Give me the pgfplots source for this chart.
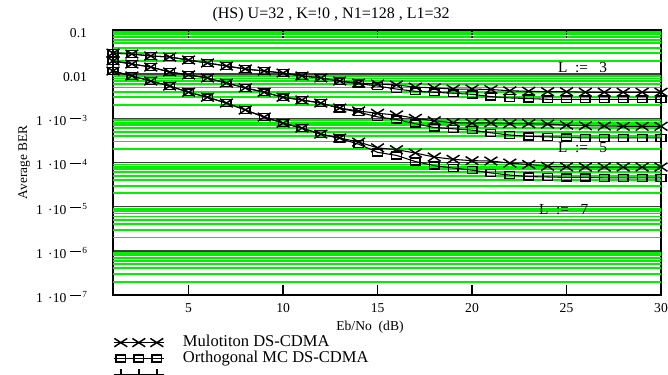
\documentclass[border=0pt]{standalone}
\usepackage{pgfplots}
\pgfplotsset{compat=1.18}
\usepackage{pgfplotstable}
\usepackage{fontspec}
\setmainfont{Liberation Serif}
\definecolor{gridgreen}{RGB}{0,240,0}

\pgfplotstableread{
x  m3      o3      m5       o5       m7        o7
1  0.0300  0.0300  0.0199   0.0199   0.0118    0.0118
2  0.0286  0.0286  0.0170   0.0170   0.0091    0.0091
3  0.0258  0.0258  0.0145   0.0145   0.0070    0.0070
4  0.0245  0.0245  0.0112   0.0112   0.0054    0.0054
5  0.0209  0.0209  0.0096   0.0096   0.0039    0.0039
6  0.0179  0.0179  0.0082   0.0082   0.0030    0.0030
7  0.0153  0.0153  0.0063   0.0063   0.00222   0.00222
8  0.0131  0.0131  0.0049   0.0049   0.00155   0.00155
9  0.0118  0.0118  0.0039   0.0039   0.00107   0.00107
10 0.0106  0.0106  0.0030   0.0030   0.00078   0.00078
11 0.0091  0.0091  0.0026   0.0026   0.00060   0.00060
12 0.0082  0.0082  0.00222  0.00222  0.00044   0.00044
13 0.0070  0.0069  0.00171  0.00168  0.00036   0.00035
14 0.0063  0.0061  0.00147  0.00138  0.00029   0.00026
15 0.0060  0.0054  0.00130  0.00108  0.000215  0.000170
16 0.0057  0.0046  0.00119  0.00094  0.000195  0.000145
17 0.0051  0.0041  0.00100  0.00076  0.000164  0.000105
18 0.0049  0.0039  0.00088  0.00062  0.000133  0.000085
19 0.0046  0.0037  0.00080  0.00058  0.000118  0.000075
20 0.0046  0.0035  0.00078  0.00054  0.000110  0.000067
21 0.0045  0.0031  0.00079  0.00047  0.000108  0.000058
22 0.0042  0.0029  0.00076  0.00042  0.000097  0.000052
23 0.0041  0.0028  0.00076  0.00039  0.000090  0.000048
24 0.0040  0.0027  0.00074  0.00038  0.000082  0.000047
25 0.0040  0.0027  0.00070  0.00037  0.000080  0.000046
26 0.0039  0.0027  0.00068  0.00036  0.000079  0.000046
27 0.0039  0.0027  0.00067  0.00036  0.000079  0.000045
28 0.0039  0.0027  0.00066  0.00036  0.000079  0.000045
29 0.0039  0.0027  0.00066  0.00036  0.000079  0.000045
30 0.0039  0.0027  0.00066  0.00036  0.000079  0.000045
}\datatable

\newcommand{\pw}[1]{1\hspace{0.4em}·10\hspace{0.3em}\raisebox{0.75ex}{\rule[0.3ex]{0.75em}{0.6pt}\hspace{0.12em}{\scriptsize #1}}\hspace{5.25pt}}
\pgfplotsset{
  mulo/.style={black, line width=0.8pt, mark=x, mark size=4.7pt, mark options={xscale=1.45, yscale=0.95, line width=1.1pt}},
  orth/.style={black, line width=0.8pt, mark=square, mark size=3.6pt, mark options={xscale=1.0, yscale=0.72, line width=1.1pt}},
}

\begin{document}
\begin{tikzpicture}
\path[use as bounding box] (0pt,0pt) rectangle (501pt,-281.25pt);
\begin{axis}[
  at={(84.75pt,-221.25pt)}, anchor=south west,
  scale only axis, width=411pt, height=198.75pt,
  xmin=1, xmax=30, ymode=log, ymin=1e-7, ymax=0.1,
  xtick={5,10,15,20,25,30},
  xtick pos=bottom, tick align=inside,
  major tick length=7.5pt,
  xtick style={line width=1.3pt, black},
  ytick={1e-7,1e-6,1e-5,1e-4,1e-3,1e-2,1e-1},
  yticklabels={\pw{7},\pw{6},\pw{5},\pw{4},\pw{3},0.01,0.1},
  ytick style={draw=none},
  yminorticks=false,
  extra y ticks={2e-7,3e-7,4e-7,5e-7,6e-7,7e-7,8e-7,9e-7,
               2e-6,3e-6,4e-6,5e-6,6e-6,7e-6,8e-6,9e-6,
               2e-5,3e-5,4e-5,5e-5,6e-5,7e-5,8e-5,9e-5,
               2e-4,3e-4,4e-4,5e-4,6e-4,7e-4,8e-4,9e-4,
               2e-3,3e-3,4e-3,5e-3,6e-3,7e-3,8e-3,9e-3,
               2e-2,3e-2,4e-2,5e-2,6e-2,7e-2,8e-2,9e-2},
  extra y tick labels={},
  extra y tick style={grid=major, major grid style={gridgreen, line width=1.4pt}, tick style={draw=none}},
  ymajorgrids,
  major grid style={black!75, line width=1.1pt},
  axis line style={line width=1.5pt},
  /pgf/number format/assume math mode=true,
  xticklabel style={font=\fontsize{10.2}{12}\selectfont, anchor=base, yshift=-13.1pt},
  yticklabel style={font=\fontsize{10.2}{12}\selectfont, anchor=base east, xshift=-16pt, yshift=-5.6pt},
  title={(HS) U=32 , K=!0 , N1=128 , L1=32},
  title style={font=\fontsize{12}{14}\selectfont, at={(axis description cs:0.398,1)}, anchor=center, yshift=5.3pt},
  xlabel={Eb/No\ \ (dB)},
  xlabel style={font=\fontsize{10.2}{12}\selectfont, at={(axis description cs:0.469,0)}, anchor=center, yshift=-24pt},
  ylabel={Average BER},
  ylabel style={font=\fontsize{10}{12}\selectfont, at={(axis description cs:-0.162,0.5)}, anchor=center},
  legend style={at={(axis description cs:0,0)}, anchor=north west, yshift=-30pt, xshift=0pt,
    draw=none, fill=none, inner sep=0pt, font=\fontsize{12.4}{15}\selectfont, row sep=1pt, column sep=14pt,
    nodes={inner sep=0pt, text height=8.5pt, text depth=2.5pt}},
  legend cell align=left,
  legend image code/.code={%
    \draw[#1, mark=none] (0pt,0pt) -- (37.5pt,0pt);
    \path[#1] plot coordinates {(5.25pt,0pt) (18.75pt,0pt) (32.25pt,0pt)};},
  clip=true,
]
\addplot[mulo, forget plot] table[x=x,y=m3] {\datatable};
\addplot[orth, forget plot] table[x=x,y=o3] {\datatable};
\addplot[mulo, forget plot] table[x=x,y=m5] {\datatable};
\addplot[orth, forget plot] table[x=x,y=o5] {\datatable};
\addplot[mulo, forget plot] table[x=x,y=m7] {\datatable};
\addplot[orth, forget plot] table[x=x,y=o7] {\datatable};
\addlegendimage{mulo}
\addlegendentry{Mulotiton DS-CDMA}
\addlegendimage{orth}
\addlegendentry{Orthogonal MC DS-CDMA}
\addlegendimage{black, line width=0.8pt, mark=+, mark size=4pt, mark options={line width=1.1pt}}
\addlegendentry{}
\node[font=\fontsize{11.5}{13}\selectfont, anchor=west] at (axis cs:24.3,0.0138) {L\ \ :=\ \ \ 3};
\node[font=\fontsize{11.5}{13}\selectfont, anchor=west] at (axis cs:24.3,2.13e-4) {L\ \ :=\ \ \ 5};
\node[font=\fontsize{11.5}{13}\selectfont, anchor=west] at (axis cs:23.3,8.4e-6) {L\ \ :=\ \ \ 7};
\end{axis}
\begin{axis}[
  at={(84.75pt,-221.25pt)}, anchor=south west,
  scale only axis, width=411pt, height=198.75pt,
  xmin=1, xmax=30, ymin=0, ymax=1,
  axis line style={draw=none},
  xtick={5,10,15,20,25}, xticklabels={},
  xtick pos=top, tick align=inside, major tick length=6pt,
  xtick style={dash pattern=on 1.5pt off 0.8pt, line width=1pt, black},
  ytick=\empty,
]
\end{axis}
\end{tikzpicture}
\end{document}
